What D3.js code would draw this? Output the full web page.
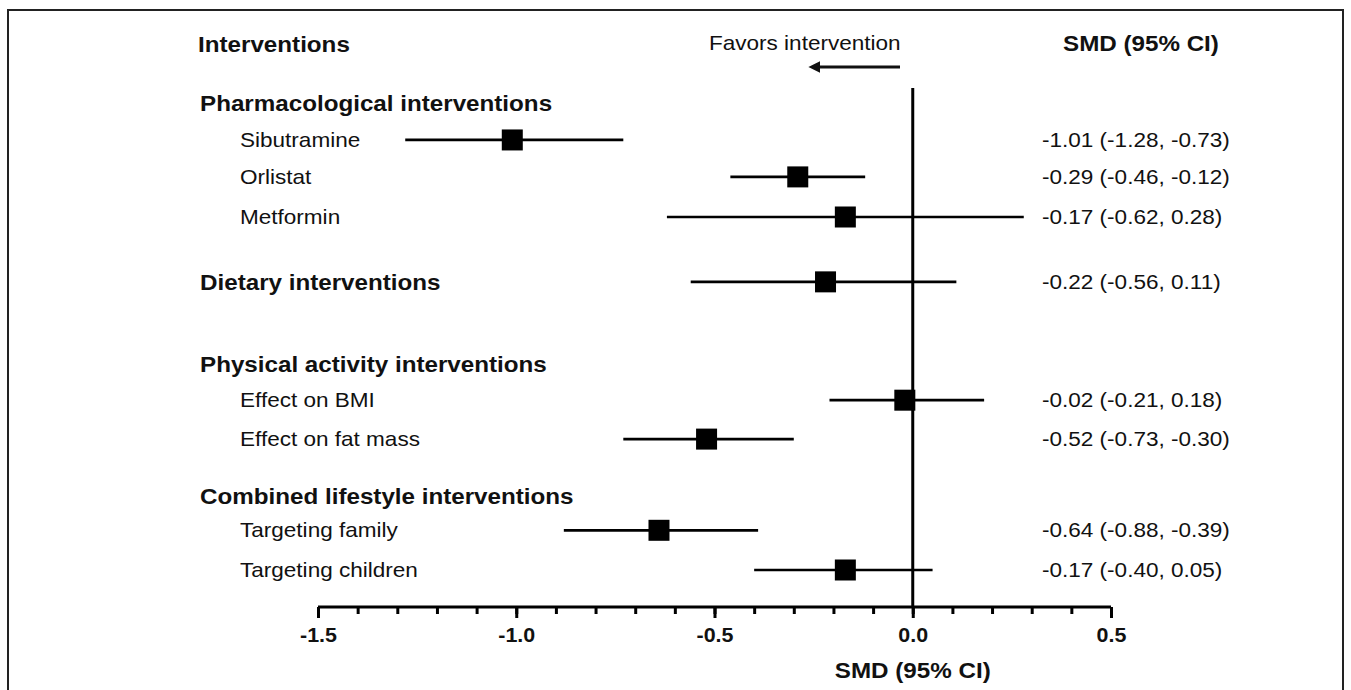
<!DOCTYPE html>
<html>
<head>
<meta charset="utf-8">
<script src="https://cdn.jsdelivr.net/npm/d3@7"></script>
<style>
  body { margin: 0; background: #fff; }
  svg { display: block; }
</style>
</head>
<body>
<script>

// forest plot data
var groups = ["Pharmacological interventions", "Dietary interventions",
              "Physical activity interventions", "Combined lifestyle interventions"];
var labels = ["Sibutramine", "Orlistat", "Metformin", "Dietary interventions",
              "Effect on BMI", "Effect on fat mass", "Targeting family", "Targeting children"];
var smd   = [-1.01, -0.29, -0.17, -0.22, -0.02, -0.52, -0.64, -0.17];
var lower = [-1.28, -0.46, -0.62, -0.56, -0.21, -0.73, -0.88, -0.40];
var upper = [-0.73, -0.12,  0.28,  0.11,  0.18, -0.30, -0.39,  0.05];
var xTicks = [-1.5, -1.0, -0.5, 0.0, 0.5];

// row order (g = group header, i = estimate row), with vertical slots
var rowOrder = [["g", 0], ["i", 0], ["i", 1], ["i", 2], ["gi", 1, 3],
                ["g", 2], ["i", 4], ["i", 5], ["g", 3], ["i", 6], ["i", 7]];
var rowSlots = [0, 0.94, 1.88, 2.9, 4.55, 6.64, 7.56, 8.55, 10.0, 10.87, 11.88];

var width = 1351, height = 690;
var stretch = 1.1;   // text in the figure is a bit wider than plain Arial

// plain hyphen for minus signs, like the original
var locale = d3.formatLocale({decimal: ".", thousands: ",", grouping: [3], currency: ["", ""], minus: "-"});
var f2 = locale.format(".2f");
var f1 = locale.format(".1f");

var svg = d3.select("body").append("svg")
    .attr("width", width)
    .attr("height", height);

// outer frame
svg.append("rect")
    .attr("x", 8).attr("y", 10)
    .attr("width", 1335).attr("height", 700)
    .attr("fill", "none")
    .attr("stroke", "#222")
    .attr("stroke-width", 2);

var x = d3.scaleLinear().domain([-1.5, 0.5]).range([318, 1111]);
var y = d3.scaleLinear().domain([0, 11.88]).range([103, 570]);
var axisY = 607;

function addText(txt, px, py, size, bold, anchor) {
  return svg.append("text")
      .attr("transform", "translate(" + px + "," + py + ") scale(" + stretch + ",1)")
      .attr("dy", "0.35em")
      .attr("text-anchor", anchor || "start")
      .attr("font-family", "Liberation Sans, Arial, sans-serif")
      .attr("font-size", size + "px")
      .attr("font-weight", bold ? "bold" : "normal")
      .attr("fill", "#111")
      .text(txt);
}

// column headers
addText("Interventions", 198, 44, 22, true);
addText("Favors intervention", 709, 43, 20.5, false);
addText("SMD (95% CI)", 1063, 43, 22, true);

// arrow pointing to the left
svg.append("defs").append("marker")
    .attr("id", "head")
    .attr("viewBox", "0 0 10 10")
    .attr("refX", 2).attr("refY", 5)
    .attr("markerWidth", 4).attr("markerHeight", 4)
    .attr("orient", "auto")
  .append("path")
    .attr("d", "M0,0 L10,5 L0,10 Z")
    .attr("fill", "#111");

svg.append("line")
    .attr("x1", 900).attr("x2", 818)
    .attr("y1", 67).attr("y2", 67)
    .attr("stroke", "#111")
    .attr("stroke-width", 3)
    .attr("marker-end", "url(#head)");

// zero line
svg.append("line")
    .attr("x1", x(0)).attr("x2", x(0))
    .attr("y1", 88).attr("y2", axisY)
    .attr("stroke", "#000")
    .attr("stroke-width", 3);

// build rows
var rows = rowOrder.map(function(r, k) {
  var row = {slot: rowSlots[k], group: null, item: null};
  if (r[0] == "g") row.group = r[1];
  if (r[0] == "i") row.item = r[1];
  if (r[0] == "gi") { row.group = r[1]; row.item = r[2]; }
  return row;
});

rows.forEach(function(row) {
  var py = y(row.slot);

  if (row.group !== null) {
    addText(groups[row.group], 200, py, 22, true);
  } else if (row.item !== null) {
    addText(labels[row.item], 240, py, 20.5, false);
  }

  if (row.item !== null) {
    var i = row.item;

    // confidence interval
    svg.append("line")
        .attr("x1", x(lower[i])).attr("x2", x(upper[i]))
        .attr("y1", py).attr("y2", py)
        .attr("stroke", "#000")
        .attr("stroke-width", 2.7);

    // point estimate
    svg.append("rect")
        .attr("x", x(smd[i]) - 10.5)
        .attr("y", py - 10.5)
        .attr("width", 21).attr("height", 21)
        .attr("fill", "#000");

    addText(f2(smd[i]) + " (" + f2(lower[i]) + ", " + f2(upper[i]) + ")", 1042, py, 20.5, false);
  }
});

// minor ticks every 0.1
var minorAxis = d3.axisBottom(x)
    .tickValues(d3.range(-15, 6).map(function(d) { return d / 10; }))
    .tickSize(7)
    .tickFormat("");

svg.append("g")
    .attr("transform", "translate(0," + axisY + ")")
    .call(minorAxis)
    .call(function(g) {
      g.select(".domain").remove();
      g.selectAll(".tick line").attr("stroke", "#000").attr("stroke-width", 3);
    });

// major ticks with labels
var majorAxis = d3.axisBottom(x)
    .tickValues(xTicks)
    .tickSize(11)
    .tickSizeOuter(0)
    .tickFormat(f1);

svg.append("g")
    .attr("transform", "translate(0," + axisY + ")")
    .call(majorAxis)
    .call(function(g) {
      g.select(".domain")
          .attr("d", "M" + x(-1.5) + ",0H" + x(0.5))
          .attr("stroke", "#000")
          .attr("stroke-width", 3);
      g.selectAll(".tick line").attr("stroke", "#000").attr("stroke-width", 3);
      g.selectAll(".tick text")
          .attr("y", 21)
          .attr("transform", "scale(" + stretch + ",1)")
          .attr("font-family", "Liberation Sans, Arial, sans-serif")
          .attr("font-size", "19.5px")
          .attr("font-weight", "bold")
          .attr("fill", "#111");
    });

// axis title
addText("SMD (95% CI)", x(0), 670, 22, true, "middle");

</script>
</body>
</html>
